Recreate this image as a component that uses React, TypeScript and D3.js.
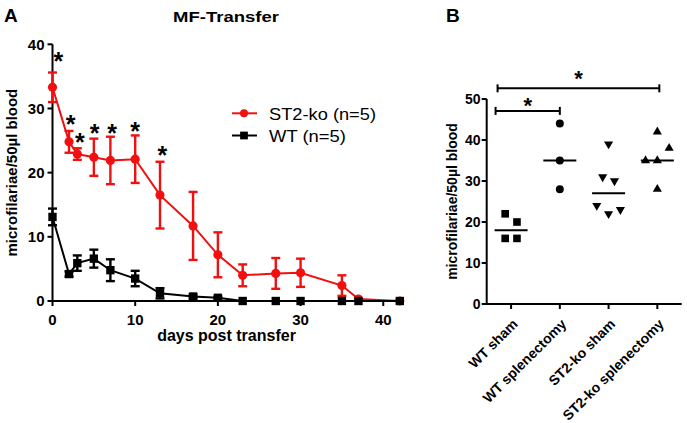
import React from "react";
import * as d3 from "d3";

// ---------- Panel A data ----------
const days = [0, 2, 3, 5, 7, 10, 13, 17, 20, 23, 27, 30, 35, 37, 42];
const koMean = [33.3, 24.8, 22.9, 22.4, 21.9, 22.1, 16.5, 11.7, 7.2, 4.0, 4.3, 4.4, 2.4, 0.3, 0];
const koSem = [2.3, 1.7, 0.9, 2.9, 3.7, 3.7, 5.2, 5.3, 3.5, 1.7, 2.4, 2.2, 1.6, 0, 0];
const wtMean = [13.1, 4.2, 5.9, 6.6, 4.8, 3.5, 1.2, 0.7, 0.5, 0, 0, 0, 0, 0, 0];
const wtSem = [1.3, 0.4, 1.2, 1.4, 1.7, 1.2, 0.8, 0.3, 0.2, 0, 0, 0, 0, 0, 0];
const xTicksA = [0, 10, 20, 30, 40];
const yTicksA = [0, 10, 20, 30, 40];
const starDays = [0.7, 2.2, 3.3, 5.1, 7.2, 10.0, 13.3];
const starValues = [38.1, 28.3, 25.6, 27.0, 26.9, 27.3, 23.5];
const seriesNames = ["ST2-ko (n=5)", "WT (n=5)"];
const titleA = "MF-Transfer";
const xTitleA = "days post transfer";
const yTitle = "microfilariae/50µl blood";

// ---------- Panel B data ----------
const groups = ["WT sham", "WT splenectomy", "ST2-ko sham", "ST2-ko splenectomy"];
const wtShamVals = [22, 20, 16, 16];
const wtSplenVals = [44, 35, 28];
const koShamVals = [39, 31, 30, 24, 22, 23];
const koSplenVals = [42, 38, 35, 35, 28];
const wtShamJitter = [-1, 1, -1, 1];
const wtSplenJitter = [0, 0, 0];
const koShamJitter = [0, -1, 1, -2, 0, 2];
const koSplenJitter = [0, 2, -2, 0, 0];
const groupMedians = [18, 35, 27, 35];
const yTicksB = [0, 10, 20, 30, 40, 50];
const bracketFrom = [0, 0];
const bracketTo = [1, 3];
const bracketValues = [47.1, 52.6];
const bracketStarValues = [49.5, 56.1];

const FONT = "'Liberation Sans', Arial, Helvetica, sans-serif";
const RED = "#f01010";
const BLACK = "#000000";

export default function App() {
  // scales panel A
  const xA = d3.scaleLinear().domain([0, 42]).range([52.5, 399.8]);
  const yA = d3.scaleLinear().domain([0, 40]).range([301, 44.3]);
  // scales panel B
  const xB = d3.scalePoint<string>().domain(groups).range([486.7, 681.7]).padding(0.5);
  const yB = d3.scaleLinear().domain([0, 50]).range([304, 99]);

  const line = d3
    .line<number>()
    .x((_, i) => xA(days[i]))
    .y((d) => yA(d));

  const circleA = d3.symbol(d3.symbolCircle, 66)();
  const squareA = d3.symbol(d3.symbolSquare, 70)();
  const circleB = d3.symbol(d3.symbolCircle, 50)();
  const squareB = d3.symbol(d3.symbolSquare, 58)();
  const triB = d3.symbol(d3.symbolTriangle, 36)();
  const legCircle = d3.symbol(d3.symbolCircle, 50)();
  const legSquare = d3.symbol(d3.symbolSquare, 60)();

  const cap = 4.5;
  const errBars = (mean: number[], sem: number[], color: string) =>
    mean.map((m, i) => {
      if (sem[i] <= 0) return null;
      const x = xA(days[i]);
      const y1 = yA(m + sem[i]);
      const y2 = yA(Math.max(0, m - sem[i]));
      return (
        <g key={i} stroke={color} strokeWidth={2.4}>
          <line x1={x} x2={x} y1={y1} y2={y2} />
          <line x1={x - cap} x2={x + cap} y1={y1} y2={y1} />
          <line x1={x - cap} x2={x + cap} y1={y2} y2={y2} />
        </g>
      );
    });

  const groupVals = [wtShamVals, wtSplenVals, koShamVals, koSplenVals];
  const groupJit = [wtShamJitter, wtSplenJitter, koShamJitter, koSplenJitter];
  const groupSym = [squareB, circleB, triB, triB];
  const groupRot = [0, 0, 180, 0];
  const jitStep = 5.9;

  return (
    <svg
      width={687}
      height={423}
      style={{ position: "absolute", left: 0, top: 0, background: "#fff" }}
      fontFamily={FONT}
    >
      <rect x={0} y={0} width={687} height={423} fill="#fff" />
      {/* Panel labels */}
      <text x={4} y={22} fontSize={19} fontWeight="bold">A</text>
      <text x={446} y={22} fontSize={19} fontWeight="bold">B</text>

      {/* ---------- Panel A ---------- */}
      <text x={226} y={21.5} fontSize={15} fontWeight="bold" textAnchor="middle" textLength={106} lengthAdjust="spacingAndGlyphs">
        {titleA}
      </text>
      {/* axes */}
      <g stroke={BLACK} strokeWidth={2} fill="none">
        <line x1={xA(0)} x2={xA(0)} y1={yA(40)} y2={yA(0) + 1} />
        <line x1={xA(0) - 1} x2={xA(42) + 4} y1={yA(0)} y2={yA(0)} />
        {yTicksA.map((t) => (
          <line key={"yt" + t} x1={xA(0) - 5} x2={xA(0)} y1={yA(t)} y2={yA(t)} />
        ))}
        {xTicksA.map((t) => (
          <line key={"xt" + t} x1={xA(t)} x2={xA(t)} y1={yA(0)} y2={yA(0) + 5} />
        ))}
      </g>
      {yTicksA.map((t) => (
        <text key={"yl" + t} x={xA(0) - 8} y={yA(t) + 5.3} fontSize={15} fontWeight="bold" textAnchor="end">
          {t}
        </text>
      ))}
      {xTicksA.map((t) => (
        <text key={"xl" + t} x={xA(t)} y={325} fontSize={15} fontWeight="bold" textAnchor="middle">
          {t}
        </text>
      ))}
      <text x={226.5} y={341} fontSize={16} fontWeight="bold" textAnchor="middle">
        {xTitleA}
      </text>
      <text
        transform={`translate(17,${(yA(0) + yA(40)) / 2}) rotate(-90)`}
        fontSize={15}
        fontWeight="bold"
        textAnchor="middle"
      >
        {yTitle}
      </text>

      {/* series */}
      <path d={line(koMean) || ""} fill="none" stroke={RED} strokeWidth={2} />
      {errBars(koMean, koSem, RED)}
      {koMean.map((m, i) => (
        <path key={"kc" + i} d={circleA || ""} transform={`translate(${xA(days[i])},${yA(m)})`} fill={RED} />
      ))}
      <path d={line(wtMean) || ""} fill="none" stroke={BLACK} strokeWidth={2} />
      {errBars(wtMean, wtSem, BLACK)}
      {wtMean.map((m, i) => (
        <path key={"ws" + i} d={squareA || ""} transform={`translate(${xA(days[i])},${yA(m)})`} fill={BLACK} />
      ))}
      {/* stars */}
      {starDays.map((d, i) => (
        <text key={"st" + i} x={xA(d)} y={yA(starValues[i]) + 14} fontSize={25} fontWeight="bold" textAnchor="middle">
          *
        </text>
      ))}

      {/* legend */}
      <line x1={232} x2={257} y1={113.3} y2={113.3} stroke={RED} strokeWidth={2} />
      <path d={legCircle || ""} transform="translate(244,113.3)" fill={RED} />
      <text x={269} y={119.5} fontSize={17} textLength={107} lengthAdjust="spacingAndGlyphs">{seriesNames[0]}</text>
      <line x1={232} x2={257} y1={135.5} y2={135.5} stroke={BLACK} strokeWidth={2} />
      <path d={legSquare || ""} transform="translate(244,135.5)" fill={BLACK} />
      <text x={269} y={141.7} fontSize={17} textLength={77} lengthAdjust="spacingAndGlyphs">{seriesNames[1]}</text>

      {/* ---------- Panel B ---------- */}
      <g stroke={BLACK} strokeWidth={2} fill="none">
        <line x1={486.7} x2={486.7} y1={yB(50)} y2={yB(0) + 1} />
        <line x1={485.7} x2={681.7} y1={yB(0)} y2={yB(0)} />
        {yTicksB.map((t) => (
          <line key={"byt" + t} x1={481.7} x2={486.7} y1={yB(t)} y2={yB(t)} />
        ))}
        {groups.map((g) => (
          <line key={"bxt" + g} x1={xB(g)} x2={xB(g)} y1={yB(0)} y2={yB(0) + 5} />
        ))}
      </g>
      {yTicksB.map((t) => (
        <text key={"byl" + t} x={480.5} y={yB(t) + 5} fontSize={14} fontWeight="bold" textAnchor="end">
          {t}
        </text>
      ))}
      {groups.map((g) => (
        <text
          key={"bxl" + g}
          transform={`translate(${(xB(g) || 0) + 7.5},325) rotate(-45)`}
          fontSize={14}
          fontWeight="bold"
          textAnchor="end"
        >
          {g}
        </text>
      ))}
      <text
        transform={`translate(457,${(yB(0) + yB(50)) / 2}) rotate(-90)`}
        fontSize={14}
        fontWeight="bold"
        textAnchor="middle"
      >
        {yTitle}
      </text>
      {/* points */}
      {groupVals.map((vals, gi) =>
        vals.map((v, i) => (
          <path
            key={`bp${gi}-${i}`}
            d={groupSym[gi] || ""}
            transform={`translate(${(xB(groups[gi]) || 0) + groupJit[gi][i] * jitStep},${yB(v)}) rotate(${groupRot[gi]})`}
            fill={BLACK}
          />
        ))
      )}
      {/* medians */}
      {groupMedians.map((m, gi) => (
        <line
          key={"md" + gi}
          x1={(xB(groups[gi]) || 0) - 16.5}
          x2={(xB(groups[gi]) || 0) + 16.5}
          y1={yB(m)}
          y2={yB(m)}
          stroke={BLACK}
          strokeWidth={2}
        />
      ))}
      {/* brackets */}
      {bracketValues.map((v, i) => {
        const x1 = (xB(groups[bracketFrom[i]]) || 0) - 15.5 + i * 2;
        const x2 = (xB(groups[bracketTo[i]]) || 0) + i * 2;
        const y = yB(v);
        return (
          <g key={"br" + i}>
            <g stroke={BLACK} strokeWidth={2}>
              <line x1={x1} x2={x2} y1={y} y2={y} />
              <line x1={x1} x2={x1} y1={y - 4} y2={y + 4} />
              <line x1={x2} x2={x2} y1={y - 4} y2={y + 4} />
            </g>
            <text x={(x1 + x2) / 2} y={yB(bracketStarValues[i]) + 12} fontSize={22} fontWeight="bold" textAnchor="middle">
              *
            </text>
          </g>
        );
      })}
    </svg>
  );
}
